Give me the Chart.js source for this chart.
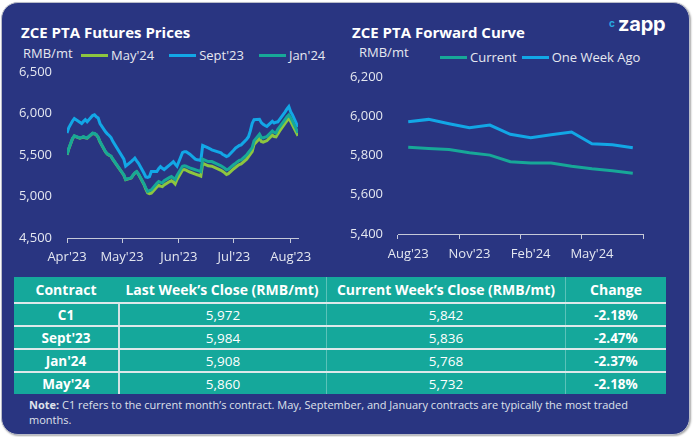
<!DOCTYPE html>
<html>
<head>
<meta charset="utf-8">
<script src="https://cdn.jsdelivr.net/npm/chart.js@4.4.0/dist/chart.umd.min.js"></script>
<style>
  body { margin: 0; width: 693px; height: 437px; background: #fff; font-family: 'Open Sans', sans-serif; position: relative; overflow: hidden; }
  .card { position: absolute; left: 1px; top: 2px; width: 687px; height: 431px; background: #293581; border-radius: 17px; border: 1px solid #b9bcc8; box-shadow: 1px 1px 2px rgba(0,0,0,0.35); }
  .abs { position: absolute; }
  .title { font-weight: 700; font-size: 15px; color: #fff; line-height: 20px; white-space: nowrap; }
  .unit { font-size: 13px; color: #e6e8f0; line-height: 18px; }
  .legend { display: flex; align-items: center; font-size: 13px; color: #e6e8f0; line-height: 18px; white-space: nowrap; }
  .legend .item { display: flex; align-items: center; }
  .legend .swatch { display: inline-block; width: 27px; height: 3px; margin-right: 3px; }
  .logo { color: #fff; font-family: Inter, sans-serif; font-weight: 700; font-size: 20px; line-height: 24px; letter-spacing: -0.2px; }
  .logo-c { color: #27a8e0; font-family: Inter, sans-serif; font-weight: 700; font-size: 10px; line-height: 10px; }
  .chartbox { position: absolute; }
  .table { position: absolute; left: 14px; top: 277px; width: 652px; background: #15a89b; color: #fff; }
  .row { display: flex; height: 23px; box-sizing: border-box; border-top: 2px solid #dde8ea; }
  .row.head { height: 25px; border-top: none; }
  .cell { display: flex; align-items: center; justify-content: center; box-sizing: border-box; font-size: 13.5px; }
  .head .cell { font-size: 14px; font-weight: 700; }
  .c0 { width: 104px; font-weight: 700; }
  .c1 { width: 208px; }
  .c2 { width: 239px; border-left: 1px solid rgba(255,255,255,0.3); }
  .c3 { width: 101px; border-left: 1px solid rgba(255,255,255,0.3); font-weight: 700; }
  .row:not(.head) .c1 { border-left: 2px solid #d3e2e4; }
  .note { position: absolute; left: 29px; top: 397px; width: 600px; font-size: 11px; line-height: 15px; color: #dfe1ea; }
</style>
</head>
<body>
<div class="card"></div>

<div class="abs title" style="left:21px; top:22px;">ZCE PTA Futures Prices</div>
<div class="abs unit" style="left:23px; top:44px;">RMB/mt</div>
<div class="abs legend" id="legendLeft" style="left:81px; top:46px; gap:15px;"></div>
<div class="chartbox" style="left:10px; top:60px; width:318px; height:212px;"><canvas id="futuresChart"></canvas></div>

<div class="abs title" style="left:352px; top:22px;">ZCE PTA Forward Curve</div>
<div class="abs unit" style="left:359px; top:43px;">RMB/mt</div>
<div class="abs legend" id="legendRight" style="left:440px; top:48px; gap:5px;"></div>
<div class="abs logo-c" style="left:609px; top:18px;">c</div>
<div class="abs logo" style="left:618px; top:12px;">zapp</div>
<div class="chartbox" style="left:350px; top:65px; width:323px; height:203px;"><canvas id="curveChart"></canvas></div>

<div class="table" id="closeTable"></div>
<div class="note"><b>Note:</b> C1 refers to the current month’s contract. May, September, and January contracts are typically the most traded months.</div>

<script>
// Precios diarios de futuros (RMB/mt)
const dates = [
  '2023-04-03','2023-04-04','2023-04-06','2023-04-07',
  '2023-04-10','2023-04-11','2023-04-12','2023-04-13','2023-04-14',
  '2023-04-17','2023-04-18','2023-04-19','2023-04-20','2023-04-21',
  '2023-04-24','2023-04-25','2023-04-26','2023-04-27','2023-04-28',
  '2023-05-04','2023-05-05',
  '2023-05-08','2023-05-09','2023-05-10','2023-05-11','2023-05-12',
  '2023-05-15','2023-05-16','2023-05-17','2023-05-18','2023-05-19',
  '2023-05-22','2023-05-23','2023-05-24','2023-05-25','2023-05-26',
  '2023-05-29','2023-05-30','2023-05-31','2023-06-01','2023-06-02',
  '2023-06-05','2023-06-06','2023-06-07','2023-06-08','2023-06-09',
  '2023-06-12','2023-06-13','2023-06-14','2023-06-15','2023-06-16',
  '2023-06-19','2023-06-20','2023-06-21',
  '2023-06-26','2023-06-27','2023-06-28','2023-06-29','2023-06-30',
  '2023-07-03','2023-07-04','2023-07-05','2023-07-06','2023-07-07',
  '2023-07-10','2023-07-11','2023-07-12','2023-07-13','2023-07-14',
  '2023-07-17','2023-07-18','2023-07-19','2023-07-20','2023-07-21',
  '2023-07-24','2023-07-25','2023-07-26','2023-07-27','2023-07-28',
  '2023-07-31','2023-08-01','2023-08-02','2023-08-03','2023-08-04',
  '2023-08-07'
];
const may24 = [
  5502, 5577, 5697, 5727,
  5702, 5709, 5717, 5707, 5702,
  5760, 5757, 5742, 5712, 5657,
  5537, 5512, 5497, 5485, 5447,
  5257, 5202,
  5222, 5255, 5282, 5297, 5267,
  5145, 5090, 5045, 5035, 5040,
  5115, 5135, 5125, 5120, 5140,
  5180, 5190, 5175, 5150, 5205,
  5320, 5325, 5318, 5305, 5295,
  5270, 5262, 5255, 5245, 5400,
  5370, 5368, 5365,
  5315, 5300, 5285, 5265, 5275,
  5335, 5352, 5370, 5385, 5392,
  5450, 5480, 5510, 5540, 5625,
  5700, 5662, 5655, 5665, 5672,
  5738, 5722, 5718, 5755, 5790,
  5885, 5915, 5940, 5905, 5860,
  5732
];
const sept23 = [
  5765, 5830, 5910, 5940,
  5895, 5880, 5905, 5925, 5900,
  5975, 5985, 5960, 5945, 5880,
  5780, 5755, 5735, 5710, 5665,
  5450, 5365,
  5420, 5440, 5462, 5430, 5400,
  5280, 5235, 5230, 5240, 5300,
  5300, 5335, 5360, 5340, 5325,
  5380, 5400, 5420, 5390, 5365,
  5530, 5540, 5540, 5525, 5510,
  5450, 5442, 5440, 5434, 5615,
  5585, 5575, 5562,
  5525, 5505, 5495, 5482, 5490,
  5560, 5585, 5600, 5615, 5622,
  5690, 5720, 5790, 5880, 5925,
  5930, 5890, 5870, 5855, 5845,
  5905, 5885, 5895, 5900, 5930,
  6020, 6055, 6083, 6020, 5984,
  5836
];
const jan24 = [
  5505, 5580, 5700, 5730,
  5705, 5712, 5720, 5710, 5705,
  5763, 5760, 5745, 5715, 5660,
  5540, 5515, 5500, 5488, 5450,
  5260, 5205,
  5225, 5258, 5285, 5300, 5270,
  5150, 5100, 5060, 5070, 5080,
  5160, 5180, 5170, 5165, 5190,
  5230, 5240, 5225, 5205, 5255,
  5365, 5370, 5365, 5355, 5345,
  5322, 5315, 5308, 5300, 5450,
  5421, 5421, 5421,
  5370, 5355, 5340, 5322, 5330,
  5385, 5402, 5420, 5435, 5442,
  5500, 5530, 5560, 5590, 5670,
  5750, 5710, 5705, 5715, 5722,
  5790, 5772, 5765, 5810, 5840,
  5930, 5960, 5983, 5950, 5908,
  5768
];
const monthTicks = ['2023-04-03', '2023-05-03', '2023-06-03', '2023-07-03', '2023-08-03'];
const monthLabels = ["Apr'23", "May'23", "Jun'23", "Jul'23", "Aug'23"];

// Curva forward
const curveMonths = ["Aug'23", "Sep'23", "Oct'23", "Nov'23", "Dec'23", "Jan'24", "Feb'24", "Mar'24", "Apr'24", "May'24", "Jun'24", "Jul'24"];
const curveCurrent = [5842, 5836, 5830, 5814, 5802, 5768, 5762, 5762, 5745, 5732, 5722, 5710];
const curveWeekAgo = [5972, 5984, 5962, 5942, 5955, 5908, 5890, 5906, 5920, 5860, 5855, 5840];

// Tabla
const contracts = ['C1', "Sept'23", "Jan'24", "May'24"];
const lastWeekClose = [5972, 5984, 5908, 5860];
const currentWeekClose = [5842, 5836, 5768, 5732];
const weeklyChange = ['-2.18%', '-2.47%', '-2.37%', '-2.18%'];

const GREEN = '#8dc63f';
const BLUE = '#12a7e6';
const TEAL = '#17a898';
const TICK_TEXT = '#e4e7f0';
const AXIS = '#c5c9d8';

Chart.defaults.font.family = "'Open Sans', sans-serif";
Chart.defaults.font.size = 13;
Chart.defaults.color = TICK_TEXT;

const day0 = Date.parse(dates[0]);
const toDay = d => (Date.parse(d) - day0) / 86400000;
const asPoints = values => values.map((v, i) => ({ x: toDay(dates[i]), y: v }));
const fmt = v => Number(v).toLocaleString('en-US');

// eje Y sin líneas: la separación de las etiquetas sale de tickLength (no infla el padding superior)
const hiddenYGrid = { drawOnChartArea: false, drawTicks: true, tickLength: 12, color: 'rgba(0,0,0,0)' };

const futures = new Chart(document.getElementById('futuresChart'), {
    type: 'line',
    data: {
        datasets: [
            { label: "May'24", data: asPoints(may24), borderColor: GREEN, order: 3 },
            { label: "Sept'23", data: asPoints(sept23), borderColor: BLUE, order: 2 },
            { label: "Jan'24", data: asPoints(jan24), borderColor: TEAL, order: 1 }
        ]
    },
    options: {
        responsive: true,
        maintainAspectRatio: false,
        animation: false,
        layout: { padding: { top: 12, right: 30, bottom: 0, left: 0 } },
        elements: { point: { radius: 0 }, line: { borderWidth: 3, tension: 0 } },
        plugins: { legend: { display: false }, tooltip: { enabled: false } },
        scales: {
            x: {
                type: 'linear',
                min: 0,
                max: toDay(dates[dates.length - 1]),
                afterBuildTicks: s => { s.ticks = monthTicks.map(d => ({ value: toDay(d) })); },
                afterFit: s => { s.height = 34; },
                ticks: { autoSkip: false, maxRotation: 0, padding: 6, color: TICK_TEXT,
                         callback: (v, i) => monthLabels[i] },
                grid: { drawOnChartArea: false, tickLength: 5, color: AXIS },
                border: { color: AXIS, width: 1 }
            },
            y: {
                min: 4500,
                max: 6500,
                afterFit: s => { s.width = 57; },
                ticks: { stepSize: 500, padding: 3, color: TICK_TEXT, callback: fmt },
                grid: hiddenYGrid,
                border: { display: false }
            }
        }
    }
});

const everyThird = ctx => (ctx.index === undefined || ctx.index % 3 === 0) ? AXIS : 'rgba(0,0,0,0)';

const curve = new Chart(document.getElementById('curveChart'), {
    type: 'line',
    data: {
        labels: curveMonths,
        datasets: [
            { label: 'Current', data: curveCurrent, borderColor: TEAL },
            { label: 'One Week Ago', data: curveWeekAgo, borderColor: BLUE }
        ]
    },
    options: {
        responsive: true,
        maintainAspectRatio: false,
        animation: false,
        layout: { padding: { top: 12, right: 30, bottom: 0, left: 0 } },
        elements: { point: { radius: 0 }, line: { borderWidth: 3, tension: 0 } },
        plugins: { legend: { display: false }, tooltip: { enabled: false } },
        scales: {
            x: {
                type: 'category',
                offset: true,
                afterFit: s => { s.height = 34; },
                ticks: { autoSkip: false, maxRotation: 0, padding: 7, color: TICK_TEXT,
                         callback: function (v, i) { return i % 3 === 0 ? this.getLabelForValue(v) : ''; } },
                grid: { offset: true, drawOnChartArea: false, tickLength: 5, color: everyThird, tickColor: everyThird },
                border: { color: AXIS, width: 1 }
            },
            y: {
                min: 5400,
                max: 6200,
                afterFit: s => { s.width = 48; },
                ticks: { stepSize: 200, padding: 3, color: TICK_TEXT, callback: fmt },
                grid: hiddenYGrid,
                border: { display: false }
            }
        }
    }
});

// Leyendas en HTML, a partir de los datasets
function buildLegend(id, chart) {
    const el = document.getElementById(id);
    chart.data.datasets.forEach(ds => {
        const item = document.createElement('span');
        item.className = 'item';
        item.innerHTML = '<span class="swatch" style="background:' + ds.borderColor + '"></span>' + ds.label;
        el.appendChild(item);
    });
}
buildLegend('legendLeft', futures);
buildLegend('legendRight', curve);

// Tabla de cierres
const table = document.getElementById('closeTable');
const headers = ['Contract', 'Last Week’s Close (RMB/mt)', 'Current Week’s Close (RMB/mt)', 'Change'];
function addRow(cells, head) {
    const row = document.createElement('div');
    row.className = head ? 'row head' : 'row';
    cells.forEach((text, i) => {
        const c = document.createElement('div');
        c.className = 'cell c' + i;
        c.textContent = text;
        row.appendChild(c);
    });
    table.appendChild(row);
}
addRow(headers, true);
contracts.forEach((c, i) => addRow([c, fmt(lastWeekClose[i]), fmt(currentWeekClose[i]), weeklyChange[i]], false));
</script>
</body>
</html>
